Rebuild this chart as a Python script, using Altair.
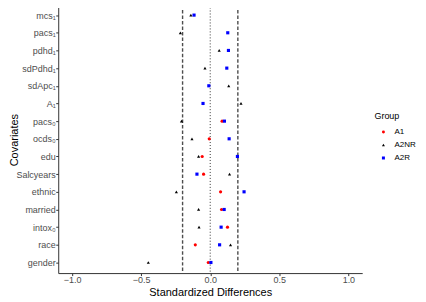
import altair as alt
import pandas as pd

covariates = ["mcs₁", "pacs₁", "pdhd₁", "sdPdhd₁", "sdApc₁", "A₁", "pacs₀", "ocds₀",
              "edu", "Salcyears", "ethnic", "married", "intox₀", "race", "gender"]
groups = ["A1", "A2NR", "A2R"]
a1_vals = [None, None, None, None, None, None, 0.086, -0.007,
           -0.058, -0.048, 0.075, 0.082, 0.125, -0.108, -0.014]
a2nr_vals = [-0.140, -0.216, 0.065, -0.038, 0.134, 0.223, -0.208, -0.132,
             -0.084, 0.140, -0.245, -0.084, -0.081, 0.147, -0.448]
a2r_vals = [-0.117, 0.127, 0.132, 0.120, -0.010, -0.052, 0.103, 0.137,
            0.197, -0.096, 0.245, 0.101, 0.079, 0.068, 0.005]
thresholds = [-0.2, 0.2]
x_ticks = [-1.0, -0.5, 0.0, 0.5, 1.0]

rows = []
for g, vals in zip(groups, [a1_vals, a2nr_vals, a2r_vals]):
    for c, v in zip(covariates, vals):
        if v is not None:
            rows.append({"Covariates": c, "Group": g, "value": v})
df = pd.DataFrame(rows)
thr_df = pd.DataFrame({"x": thresholds})
zero_df = pd.DataFrame({"x": [0.0]})

FONT = "Liberation Sans"

xscale = alt.Scale(domain=[-1.1, 1.1], nice=False, zero=False)

dashed = alt.Chart(thr_df).mark_rule(
    color="#4D4D4D", strokeWidth=1.4, strokeDash=[3.5, 2]
).encode(x=alt.X("x:Q", scale=xscale))

dotted = alt.Chart(zero_df).mark_rule(
    color="#000000", strokeWidth=0.8, strokeDash=[1, 2]
).encode(x=alt.X("x:Q", scale=xscale))

points = alt.Chart(df).mark_point(filled=True, size=10, opacity=1).encode(
    x=alt.X("value:Q", scale=xscale, title="Standardized Differences",
            axis=alt.Axis(values=x_ticks, format=".1f")),
    y=alt.Y("Covariates:N", sort=covariates,
            scale=alt.Scale(type="point", padding=0.6), title="Covariates"),
    color=alt.Color("Group:N", scale=alt.Scale(domain=groups,
                    range=["#FF0000", "#000000", "#0000FF"]), title="Group"),
    shape=alt.Shape("Group:N", scale=alt.Scale(domain=groups,
                    range=["circle", "triangle-up", "square"]), title="Group"),
    order=alt.Order("Group:N"),
)

chart = alt.layer(dashed, dotted, points).properties(
    width=305, height=269.5,
    autosize=alt.AutoSizeParams(type="none"),
    padding={"left": 50.4, "top": -4, "right": 56, "bottom": 26.5},
).configure_view(stroke=None).configure_axis(
    grid=False, domainColor="#333333", domainWidth=1, tickColor="#333333",
    tickSize=2.5, labelFont=FONT, labelFontSize=9, labelColor="#4D4D4D",
    titleFont=FONT, titleFontSize=11, titleColor="#000000", titleFontWeight="normal",
).configure_axisX(
    labelPadding=-0.5, titleBaseline="alphabetic", titleY=22.5,
).configure_axisY(
    labelPadding=0.5, titleX=-39, titleY=135.6,
).configure_legend(
    orient="none", legendX=317.3, legendY=108,
    titleFont=FONT, titleFontSize=9, titleFontWeight="normal", titleColor="#000000",
    labelFont=FONT, labelFontSize=8, labelColor="#000000",
    symbolSize=9, symbolStrokeWidth=0, symbolOffset=5, labelOffset=7,
    rowPadding=5, titlePadding=7, padding=0,
)

chart.save("out.html", embed_options={"renderer": "svg", "actions": False})
